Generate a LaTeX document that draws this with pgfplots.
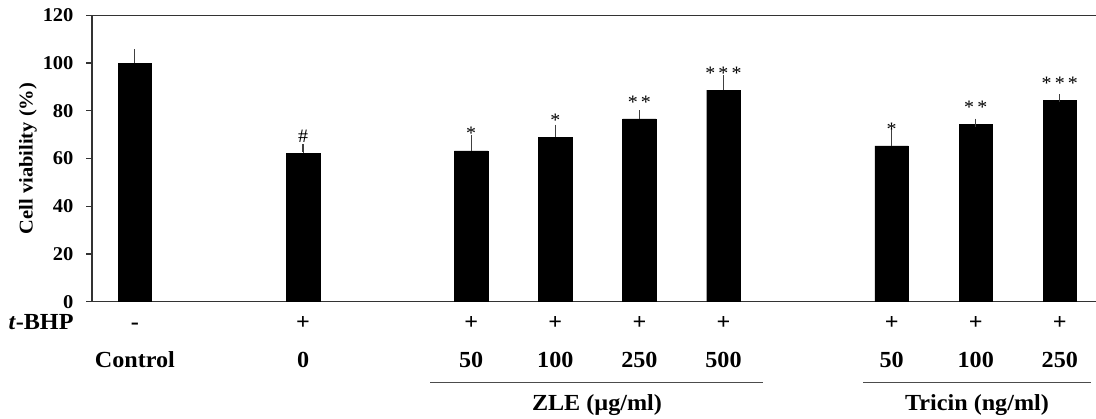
\documentclass[border=0pt]{standalone}
\usepackage{pgfplots}
\pgfplotsset{compat=1.18}
\usepackage{pgfplotstable}
\usepackage{fontspec}
\setmainfont{Liberation Serif}[FakeStretch=1.05]
\pgfplotstableread{
x y e
0 100.0 4.1
2 62.2 2.1
4 63.2 5.1
5 69.0 3.5
6 76.6 1.9
7 88.6 4.6
9 65.3 5.7
10 74.3 0.7
11 84.5 0.7
}\datatable
\begin{document}
\begin{tikzpicture}
\path[use as bounding box] (0pt,0pt) rectangle (1096pt,419pt);
\begin{axis}[
 at={(92pt,117.3pt)}, anchor=south west,
 scale only axis, width=1004pt, height=286.4pt,
 xmin=-0.51, xmax=11.43, ymin=0, ymax=120,
 axis lines=left, axis line style={-, line width=1.2pt, black!80},
 xtick=\empty, ytick={0,20,...,120},
 tick align=outside, major tick length=6pt,
 ytick style={line width=1.2pt, black!80},
 yticklabel style={xshift=-9pt, font=\bfseries\fontsize{19.5}{19.5}\selectfont, /pgf/number format/assume math mode=true},
 clip=false,
]
\addplot[ybar, bar width=33.5pt, fill=black, draw=black,
  error bars/.cd, y dir=plus, y explicit,
  error bar style={line width=1pt, black!75},
  error mark options={line width=1.2pt, black!75, mark size=4pt}]
  table[x=x, y=y, y error=e] {\datatable};
\draw[line width=1.2pt, black!80] (rel axis cs:0,1) -- (rel axis cs:1,1);
\coordinate (c0) at (axis cs:0,0);
\coordinate (c2) at (axis cs:2,0);
\coordinate (c4) at (axis cs:4,0);
\coordinate (c5) at (axis cs:5,0);
\coordinate (c6) at (axis cs:6,0);
\coordinate (c7) at (axis cs:7,0);
\coordinate (c9) at (axis cs:9,0);
\coordinate (c10) at (axis cs:10,0);
\coordinate (c11) at (axis cs:11,0);
\begin{scope}[every node/.style={anchor=base, inner sep=0pt, font=\fontsize{19}{19}\selectfont}]
\node at (axis cs:2,66.8) {\#};
\node at (axis cs:4,68.0) {*};
\node at (axis cs:5,73.6) {*};
\node at (axis cs:6,81.0) {*\,*};
\node at (axis cs:7,92.9) {*\,*\,*};
\node at (axis cs:9,69.7) {*};
\node at (axis cs:10,78.9) {*\,*};
\node at (axis cs:11,89.0) {*\,*\,*};
\end{scope}
\end{axis}
\begin{scope}[every node/.style={anchor=base, inner sep=0pt, font=\bfseries\fontsize{23}{23}\selectfont}]
\node at (41pt,89pt) {\textit{t}-BHP};
\node at (c0 |- 0,89pt) {-};
\foreach \c in {c2,c4,c5,c6,c7,c9,c10,c11} {\node at (\c |- 0,89pt) {+};}
\node at (c0 |- 0,51.5pt) {Control};
\node at (c2 |- 0,51.5pt) {0};
\node at (c4 |- 0,51.5pt) {50};
\node at (c5 |- 0,51.5pt) {100};
\node at (c6 |- 0,51.5pt) {250};
\node at (c7 |- 0,51.5pt) {500};
\node at (c9 |- 0,51.5pt) {50};
\node at (c10 |- 0,51.5pt) {100};
\node at (c11 |- 0,51.5pt) {250};
\node at (597pt,8.5pt) {ZLE (µg/ml)};
\node at (977pt,8.5pt) {Tricin (ng/ml)};
\end{scope}
\draw[line width=0.8pt, black!70] (430pt,36.7pt) -- (763pt,36.7pt);
\draw[line width=0.8pt, black!70] (863pt,36.7pt) -- (1091pt,36.7pt);
\node[rotate=90, font=\bfseries\fontsize{19.5}{19.5}\selectfont] at (28pt,260.5pt) {Cell viability (\%)};
\end{tikzpicture}
\end{document}
